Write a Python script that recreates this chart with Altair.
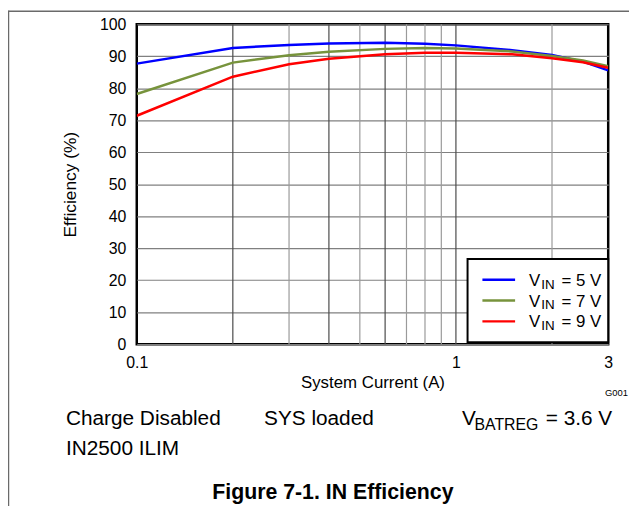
import altair as alt
import pandas as pd

# ---- data ----
current = [0.1, 0.2, 0.3, 0.4, 0.6, 0.8, 1.0, 1.5, 2.0, 2.5, 3.0]
eff_5v = [87.7, 92.6, 93.5, 94.0, 94.2, 93.9, 93.4, 91.9, 90.4, 88.3, 85.6]
eff_7v = [78.2, 88.0, 90.3, 91.4, 92.3, 92.6, 92.4, 91.5, 90.1, 88.7, 86.9]
eff_9v = [71.4, 83.6, 87.5, 89.2, 90.6, 91.1, 91.1, 90.6, 89.4, 88.1, 86.4]
series_names = ["5", "7", "9"]
series_colors = ["#0000FF", "#77933C", "#FF0000"]

grid_dark = [0.2, 0.4, 0.6, 1.0]
grid_light = [0.3, 0.5, 0.7, 0.8, 0.9, 2.0]
y_ticks = [0, 10, 20, 30, 40, 50, 60, 70, 80, 90, 100]
x_ticks = [0.1, 1, 3]

FONT = "Liberation Sans"
W, H = 476, 323

rows = []
for name, vals in zip(series_names, [eff_5v, eff_7v, eff_9v]):
    for c, v in zip(current, vals):
        rows.append({"current": c, "eff": v, "series": name})
df = pd.DataFrame(rows)

grid_df = pd.DataFrame(
    [{"current": g, "col": "#4a4a4a"} for g in grid_dark]
    + [{"current": g, "col": "#9a9a9a"} for g in grid_light]
)

xscale = alt.Scale(type="log", domain=[0.1, 3], nice=False)
yscale = alt.Scale(domain=[0, 100], nice=False)

x_axis = alt.Axis(
    values=x_ticks,
    labelExpr="datum.value < 0.5 ? '0.1' : format(datum.value, 'd')",
    grid=False, ticks=False, domain=False,
    labelFlush=False, labelOverlap=False,
    labelFont=FONT, labelFontSize=16, labelColor="black", labelPadding=11,
    title="System Current (A)", titleFont=FONT, titleFontSize=17,
    titleFontWeight="normal", titleColor="black", titlePadding=4,
)

vgrid = alt.Chart(grid_df).mark_rule(strokeWidth=1.2).encode(
    x=alt.X("current:Q", scale=xscale, axis=x_axis),
    color=alt.Color("col:N", scale=None),
)

lines = alt.Chart(df).mark_line(strokeWidth=2.5, clip=True).encode(
    x=alt.X("current:Q", scale=xscale, axis=x_axis),
    y=alt.Y(
        "eff:Q",
        scale=yscale,
        axis=alt.Axis(
            values=y_ticks, format="d",
            grid=True, gridColor="#808080", gridWidth=1.2, gridOpacity=1,
            ticks=False, domain=False,
            labelFont=FONT, labelFontSize=16, labelColor="black", labelPadding=11,
            title="Efficiency (%)", titleFont=FONT, titleFontSize=17.5,
            titleFontWeight="normal", titleColor="black", titlePadding=20,
        ),
    ),
    color=alt.Color("series:N", scale=alt.Scale(domain=series_names, range=series_colors), legend=None),
    order="current:Q",
)

one = pd.DataFrame({"a": [0]})
layers = [vgrid, lines]

# legend box
layers.append(
    alt.Chart(one).mark_rect(fill="white", stroke="black", strokeWidth=2).encode(
        x=alt.value(334), x2=alt.value(476), y=alt.value(237), y2=alt.value(321)
    )
)
for i, (name, col) in enumerate(zip(series_names, series_colors)):
    yy = 258 + 21 * i
    layers.append(
        alt.Chart(one).mark_rule(strokeWidth=2.5, color=col).encode(
            x=alt.value(349), x2=alt.value(382), y=alt.value(yy)
        )
    )
    layers.append(
        alt.Chart(one).mark_text(text="V", font=FONT, fontSize=17, align="left", baseline="alphabetic").encode(
            x=alt.value(396), y=alt.value(yy + 6)
        )
    )
    layers.append(
        alt.Chart(one).mark_text(text="IN", font=FONT, fontSize=13.5, align="left", baseline="alphabetic").encode(
            x=alt.value(408.5), y=alt.value(yy + 9)
        )
    )
    layers.append(
        alt.Chart(one).mark_text(text=f"= {name} V", font=FONT, fontSize=17, align="right", baseline="alphabetic").encode(
            x=alt.value(469), y=alt.value(yy + 6)
        )
    )

def txt(s, x, y, size, align="left", weight="normal"):
    return alt.Chart(one).mark_text(
        text=s, font=FONT, fontSize=size, align=align, baseline="alphabetic", fontWeight=weight
    ).encode(x=alt.value(x), y=alt.value(y))

layers += [
    txt("G001", 496, 375, 9.5, align="right"),
    txt("Charge Disabled", -71.5, 405, 21),
    txt("IN2500 ILIM", -71.5, 435, 21),
    txt("SYS loaded", 128.5, 405, 21),
    txt("V", 328.5, 405, 21),
    txt("BATREG", 341, 410, 16),
    txt("= 3.6 V", 480, 405, 21, align="right"),
    txt("Figure 7-1. IN Efficiency", 198, 479, 21.5, align="center", weight="bold"),
]

# outer frame (top and left edges)
layers.append(
    alt.Chart(one).mark_rule(color="#6a6a6a", strokeWidth=1.5).encode(
        x=alt.value(-129.5), x2=alt.value(497), y=alt.value(-13.2)
    )
)
layers.append(
    alt.Chart(one).mark_rule(color="#6a6a6a", strokeWidth=1.5).encode(
        x=alt.value(-129.5), y=alt.value(-14), y2=alt.value(495)
    )
)

chart = (
    alt.layer(*layers)
    .properties(
        width=W, height=H,
        autosize=alt.AutoSizeParams(type="none"),
        padding={"left": 130, "top": 14, "right": 21, "bottom": 161},
        background="white",
    )
    .configure_view(stroke="black", strokeWidth=2.5)
)

chart.save("out.html", embed_options={"renderer": "svg", "actions": False})
